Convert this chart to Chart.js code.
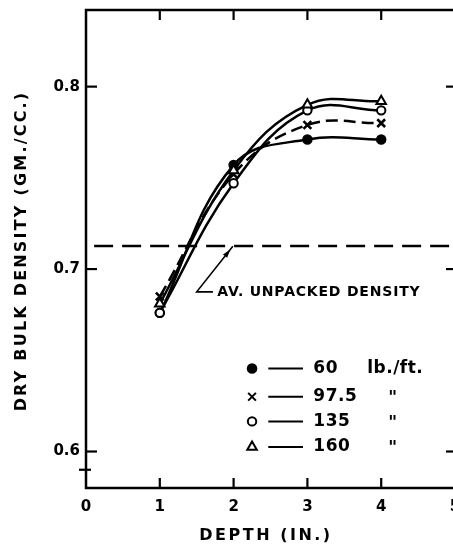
<!DOCTYPE html>
<html><head><meta charset="utf-8">
<script src="https://cdn.jsdelivr.net/npm/chart.js@4"></script>
<style>
html,body{margin:0;padding:0;background:#fff;overflow:hidden}
#wrap{width:453px;height:545px;overflow:hidden;position:relative}
canvas{display:block}
</style></head><body>
<div id="wrap"><canvas id="c" width="470" height="545"></canvas></div>
<script>
// ---- data ----
const depths = [1, 2, 3, 4];
const series60 = [0.676, 0.757, 0.771, 0.771];
const series97_5 = [0.685, 0.752, 0.779, 0.780];
const series135 = [0.676, 0.747, 0.787, 0.787];
const series160 = [0.681, 0.754, 0.790, 0.792];
const seriesLabels = ['60', '97.5', '135', '160'];
const unitLabels = ['lb./ft.', '"', '"', '"'];
const avUnpackedDensity = 0.7127;
const refLineX = [0.11, 5];
const xTicks = [0, 1, 2, 3, 4, 5];
const yTicks = [0.6, 0.7, 0.8];
const yExtraTicks = [0.59];
const xTitle = 'DEPTH (IN.)';
const yTitle = 'DRY BULK DENSITY (GM./CC.)';
const noteText = 'AV. UNPACKED DENSITY';

// ---- layout (data coordinates for in-plot annotations) ----
const legendLayout = { markerX: 2.25, lineX0: 2.47, lineX1: 2.94, textX: 3.08, unitX: 3.81, dittoX: 4.16, rows: [0.6455, 0.630, 0.6165, 0.6025] };
const noteLayout = { textX: 1.78, textY: 0.6872, leader: [[1.72, 0.6875], [1.50, 0.6875], [1.99, 0.7125]] };

const FONT = "'DejaVu Sans', sans-serif";
const pts = (arr) => depths.map((d, i) => ({ x: d, y: arr[i] }));

const styles = [
  { pointStyle: 'circle', radius: 4.5, bg: '#000', bw: 1.5, dash: [] },
  { pointStyle: 'crossRot', radius: 5.5, bg: '#000', bw: 2.6, dash: [12, 6] },
  { pointStyle: 'circle', radius: 4.2, bg: '#fff', bw: 2, dash: [] },
  { pointStyle: 'triangle', radius: 5.5, bg: '#fff', bw: 2, dash: [] }
];
const allSeries = [series60, series97_5, series135, series160];
const orders = [4, 3, 2, 1];

const datasets = allSeries.map((s, i) => ({
  label: seriesLabels[i],
  data: pts(s),
  borderColor: '#000',
  borderWidth: 2.5,
  borderDash: styles[i].dash,
  tension: 0.4,
  pointStyle: styles[i].pointStyle,
  pointRadius: styles[i].radius,
  pointBackgroundColor: styles[i].bg,
  pointBorderColor: '#000',
  pointBorderWidth: styles[i].bw,
  order: orders[i],
  clip: false
}));
datasets.push({
  label: 'ref',
  data: refLineX.map(x => ({ x, y: avUnpackedDensity })),
  borderColor: '#000',
  borderWidth: 2.5,
  borderDash: [19, 9],
  pointRadius: 0,
  order: 10
});

const framePlugin = {
  id: 'frame',
  beforeDatasetsDraw(chart) {
    const { ctx, chartArea: a, scales: { x, y } } = chart;
    ctx.save();
    ctx.strokeStyle = '#000';
    ctx.lineWidth = 2.5;
    ctx.lineCap = 'butt';
    ctx.strokeRect(a.left, a.top, a.right - a.left, a.bottom - a.top);
    ctx.lineWidth = 2.2;
    xTicks.filter(v => v > 0 && v < 5).forEach(v => {
      const p = x.getPixelForValue(v);
      ctx.beginPath(); ctx.moveTo(p, a.top); ctx.lineTo(p, a.top + 10); ctx.stroke();
      ctx.beginPath(); ctx.moveTo(p, a.bottom); ctx.lineTo(p, a.bottom - 10); ctx.stroke();
    });
    yTicks.forEach(v => {
      const p = y.getPixelForValue(v);
      ctx.beginPath(); ctx.moveTo(a.left, p); ctx.lineTo(a.left + 11, p); ctx.stroke();
      ctx.beginPath(); ctx.moveTo(a.right, p); ctx.lineTo(a.right - 9, p); ctx.stroke();
    });
    yExtraTicks.forEach(v => {
      const p = y.getPixelForValue(v);
      ctx.beginPath(); ctx.moveTo(a.left - 7, p); ctx.lineTo(a.left + 5, p); ctx.stroke();
    });
    ctx.restore();
  },
  afterDraw(chart) {
    const { ctx, scales: { x, y } } = chart;
    ctx.save();
    ctx.fillStyle = '#000';
    ctx.strokeStyle = '#000';
    // axis titles
    ctx.font = `bold 16px ${FONT}`;
    ctx.letterSpacing = '2.5px';
    ctx.textAlign = 'center';
    ctx.textBaseline = 'middle';
    ctx.fillText(xTitle, 266, 536);
    ctx.save();
    ctx.translate(22, 251);
    ctx.rotate(-Math.PI / 2);
    ctx.letterSpacing = '2.2px';
    ctx.fillText(yTitle, 0, 0);
    ctx.restore();

    // note + leader
    ctx.font = `bold 14px ${FONT}`;
    ctx.letterSpacing = '0.8px';
    ctx.textAlign = 'left';
    ctx.fillText(noteText, x.getPixelForValue(noteLayout.textX), y.getPixelForValue(noteLayout.textY));
    const L = noteLayout.leader.map(([vx, vy]) => [x.getPixelForValue(vx), y.getPixelForValue(vy)]);
    ctx.lineWidth = 1.6;
    ctx.beginPath();
    ctx.moveTo(L[0][0], L[0][1]);
    L.slice(1).forEach(p => ctx.lineTo(p[0], p[1]));
    ctx.stroke();
    const [x1, y1] = L[1], [x2, y2] = L[2];
    const ang = Math.atan2(y2 - y1, x2 - x1);
    const tipX = x2 - Math.cos(ang) * 4, tipY = y2 - Math.sin(ang) * 4;
    ctx.beginPath();
    ctx.moveTo(tipX, tipY);
    ctx.lineTo(tipX - Math.cos(ang - 0.3) * 9, tipY - Math.sin(ang - 0.3) * 9);
    ctx.lineTo(tipX - Math.cos(ang + 0.3) * 9, tipY - Math.sin(ang + 0.3) * 9);
    ctx.closePath();
    ctx.fill();

    // legend
    ctx.font = `bold 17px ${FONT}`;
    ctx.letterSpacing = '0.5px';
    legendLayout.rows.forEach((rv, i) => {
      const py = y.getPixelForValue(rv);
      ctx.fillStyle = styles[i].bg;
      ctx.strokeStyle = '#000';
      Chart.helpers.drawPoint(ctx, {
        pointStyle: styles[i].pointStyle,
        radius: styles[i].radius,
        borderWidth: styles[i].bw
      }, x.getPixelForValue(legendLayout.markerX), py);
      ctx.lineWidth = 2;
      ctx.beginPath();
      ctx.moveTo(x.getPixelForValue(legendLayout.lineX0), py);
      ctx.lineTo(x.getPixelForValue(legendLayout.lineX1), py);
      ctx.stroke();
      ctx.fillStyle = '#000';
      ctx.textAlign = 'left';
      ctx.fillText(seriesLabels[i], x.getPixelForValue(legendLayout.textX), py);
      if (i === 0) {
        ctx.fillText(unitLabels[i], x.getPixelForValue(legendLayout.unitX), py);
      } else {
        ctx.textAlign = 'center';
        ctx.fillText(unitLabels[i], x.getPixelForValue(legendLayout.dittoX), py + 2);
      }
    });
    ctx.restore();
  }
};

Chart.defaults.font.family = FONT;
Chart.defaults.font.weight = 'bold';
Chart.defaults.color = '#000';

new Chart(document.getElementById('c'), {
  type: 'line',
  data: { datasets },
  options: {
    responsive: false,
    animation: false,
    devicePixelRatio: 1,
    layout: { padding: { top: 10, right: 15, left: 0, bottom: 0 } },
    plugins: { legend: { display: false }, tooltip: { enabled: false } },
    scales: {
      x: {
        type: 'linear', min: 0, max: 5,
        grid: { display: false, drawTicks: false },
        border: { display: false },
        afterBuildTicks: s => { s.ticks = xTicks.map(v => ({ value: v })); },
        afterFit: s => { s.height = 57; s.paddingLeft = 0; s.paddingRight = 0; },
        ticks: { padding: 10, font: { size: 15, weight: 'bold' }, callback: v => String(v) }
      },
      y: {
        type: 'linear', min: 0.58, max: 0.842,
        grid: { display: false, drawTicks: false },
        border: { display: false },
        afterBuildTicks: s => { s.ticks = yTicks.map(v => ({ value: v })); },
        afterFit: s => { s.width = 86; s.paddingTop = 0; s.paddingBottom = 0; },
        ticks: { padding: 6, font: { size: 15, weight: 'bold' }, callback: v => Number(v).toFixed(1) }
      }
    }
  },
  plugins: [framePlugin]
});
</script>
</body></html>
